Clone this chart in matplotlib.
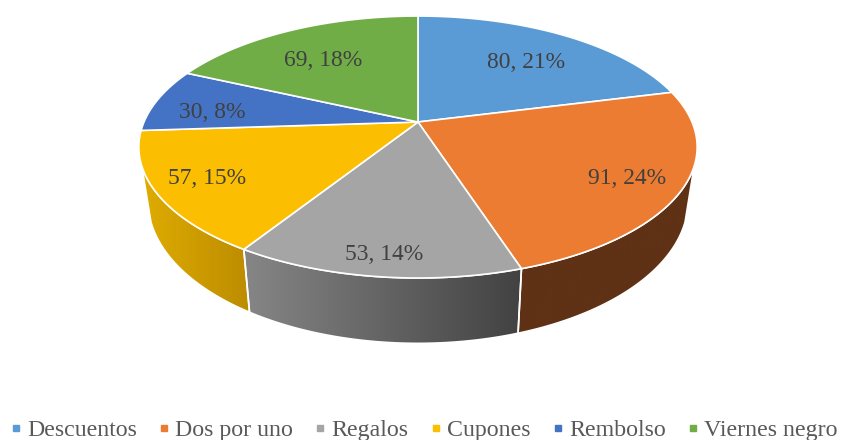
import numpy as np
import matplotlib
matplotlib.use('Agg')
import matplotlib.pyplot as plt
from matplotlib.colors import LinearSegmentedColormap
from matplotlib.lines import Line2D
from matplotlib.patches import Polygon

categorias = ['Descuentos', 'Dos por uno', 'Regalos', 'Cupones', 'Rembolso', 'Viernes negro']
valores = [80, 91, 53, 57, 30, 69]
colores = ['#5B9BD5', '#EB7C31', '#A5A5A5', '#FCBE00', '#4472C4', '#70AD47']
lados = [None, ('#5F3115', '#5F3115'), ('#868686', '#424242'), ('#DFAC00', '#BC8C00'), None, None]
pos_etiquetas = [(526, 63), (627, 178), (384, 255), (207, 178), (212, 112), (323, 60)]

plt.rcParams['font.family'] = ['Liberation Serif', 'DejaVu Serif']

cx = 418
K = 0.191
VISTA = np.radians(19.1)  # the side wall shows only below this angle


def arriba(t):
    # top face of the disc, perspective from the camera
    d = 1 + K * np.sin(t)
    return cx + 274 * np.cos(t) / d, 122 - 126.2 * np.sin(t) / d


def abajo(t):
    d = 1 + K * np.sin(t)
    return cx + 265 * np.cos(t) / d, 174 - 137 * np.sin(t) / d


fig = plt.figure(figsize=(8.41, 4.40), dpi=100)
ax = fig.add_axes([0, 0, 1, 1])

total = sum(valores)
fin = np.pi / 2 - 2 * np.pi * np.cumsum(valores) / total
ini = np.r_[np.pi / 2, fin[:-1]]

# side walls first
for a, b, lado in zip(ini, fin, lados):
    if lado is None:
        continue
    t1 = min(a, -VISTA)
    t2 = max(b, -np.pi + VISTA)
    t = np.linspace(t1, t2, 120)
    xs, ys = arriba(t)
    xb, yb = abajo(t[::-1])
    borde = np.c_[np.r_[xs, xb], np.r_[ys, yb]]
    mascara = Polygon(borde, closed=True, fc='none', ec='none')
    ax.add_patch(mascara)
    cmap = LinearSegmentedColormap.from_list('lado', [lado[0], lado[1]])
    # left to right in screen space
    izq, der = borde[:, 0].min(), borde[:, 0].max()
    im = ax.imshow(np.linspace(0, 1, 256).reshape(1, -1), cmap=cmap, aspect='auto',
                   extent=(izq, der, borde[:, 1].max(), borde[:, 1].min()), zorder=1)
    im.set_clip_path(mascara)
    ax.add_patch(Polygon(borde, closed=True, fc='none', ec='white', lw=1.2, zorder=2))

# top face
for a, b, color in zip(ini, fin, colores):
    t = np.linspace(a, b, 200)
    xs, ys = arriba(t)
    ax.fill(np.r_[cx, xs], np.r_[122, ys], fc=color, ec='white', lw=1.2, zorder=3)

for v, (x, y) in zip(valores, pos_etiquetas):
    ax.text(x, y, f'{v}, {round(v / total * 100)}%', fontsize=16.9, color='#404040',
            ha='center', va='center', zorder=4)

ax.set_xlim(0, 841)
ax.set_ylim(440, 0)
ax.axis('off')

marcas = [Line2D([], [], ls='', marker='s', ms=5, mfc=c, mec=c) for c in colores]
ax.legend(marcas, categorias, loc='lower center', bbox_to_anchor=(0.5045, -0.003), ncol=6,
          frameon=False, fontsize=17.2, labelcolor='#595959', handlelength=0.4,
          handletextpad=0.28, columnspacing=0.93, borderaxespad=0, borderpad=0)

fig.savefig('out.png', dpi=100)
